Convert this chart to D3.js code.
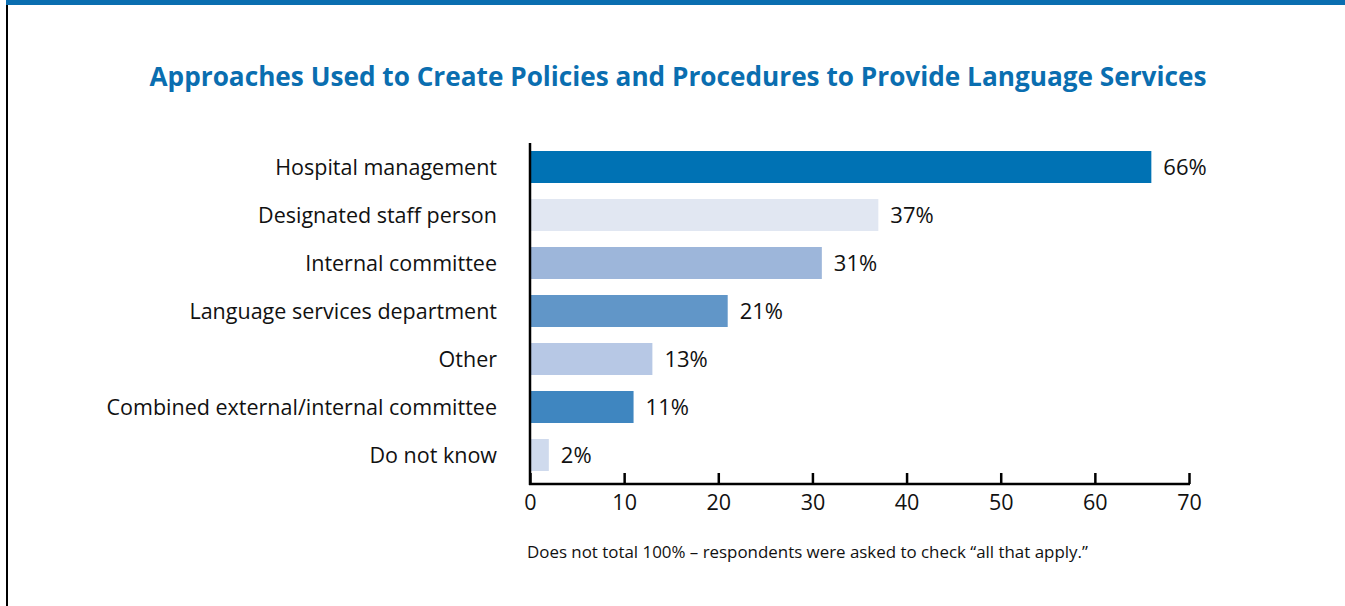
<!DOCTYPE html>
<html><head><meta charset="utf-8">
<script src="https://cdn.jsdelivr.net/npm/d3@7"></script>
<style>body{margin:0;background:#fff;}svg{display:block;}</style>
</head><body>
<svg id="c" width="1345" height="606"></svg>
<script>
const categories = ["Hospital management","Designated staff person","Internal committee","Language services department","Other","Combined external/internal committee","Do not know"];
const values = [66,37,31,21,13,11,2];
const barColors = ["#0072b4","#e1e7f2","#9db6da","#6196c8","#b7c8e5","#3f86c0","#cfdaed"];
const ticks = [0,10,20,30,40,50,60,70];
const title = "Approaches Used to Create Policies and Procedures to Provide Language Services";
const note = "Does not total 100% \u2013 respondents were asked to check \u201call that apply.\u201d";

const svg = d3.select("#c");
const font = "'Open Sans', 'Liberation Sans', sans-serif";
svg.append("rect").attr("x",6).attr("y",0).attr("width",1339).attr("height",5).attr("fill","#0a6eb0");
svg.append("rect").attr("x",6).attr("y",5).attr("width",2).attr("height",601).attr("fill","#000");

svg.append("text").attr("x",678).attr("y",86).attr("text-anchor","middle")
  .attr("font-family",font).attr("font-weight","bold").attr("font-size",26.2)
  .attr("fill","#0a6eb0").text(title);

const x = d3.scaleLinear().domain([0,70]).range([530,1189]);
const y = d3.scaleBand().domain(categories).range([143,479]).paddingInner(1/3).paddingOuter(1/6);

svg.selectAll("rect.bar").data(categories).join("rect").attr("class","bar")
  .attr("x",x(0)).attr("y",d=>y(d)).attr("height",y.bandwidth())
  .attr("width",(d,i)=>x(values[i])-x(0)).attr("fill",(d,i)=>barColors[i]);

svg.selectAll("text.val").data(categories).join("text").attr("class","val")
  .attr("x",(d,i)=>x(values[i])+12).attr("y",d=>y(d)+y.bandwidth()/2).attr("dy","0.35em")
  .attr("font-family",font).attr("font-size",22).attr("fill","#111")
  .text((d,i)=>values[i]+"%");

svg.selectAll("text.cat").data(categories).join("text").attr("class","cat")
  .attr("x",497).attr("y",d=>y(d)+y.bandwidth()/2).attr("dy","0.35em").attr("text-anchor","end")
  .attr("font-family",font).attr("font-size",21.5).attr("fill","#111").text(d=>d);

// y axis line
svg.append("line").attr("x1",x(0)).attr("x2",x(0)).attr("y1",143).attr("y2",485)
  .attr("stroke","#000").attr("stroke-width",2.5);

const xa = svg.append("g").attr("transform","translate(0,484)")
  .call(d3.axisBottom(x).tickValues(ticks).tickSize(0).tickPadding(11).tickFormat(d3.format("d")));
xa.select(".domain").remove();
xa.append("line").attr("x1",x(0)-1).attr("x2",x(70)+1).attr("stroke","#000").attr("stroke-width",2.5);
xa.selectAll(".tick").append("line").attr("y1",0).attr("y2",-11).attr("stroke","#000").attr("stroke-width",2.5);
xa.selectAll(".tick text").attr("font-family",font).attr("font-size",21.5).attr("fill","#111");

svg.append("text").attr("x",527).attr("y",558).attr("font-family",font).attr("font-size",16.9)
  .attr("fill","#111").text(note);
</script>
</body></html>
